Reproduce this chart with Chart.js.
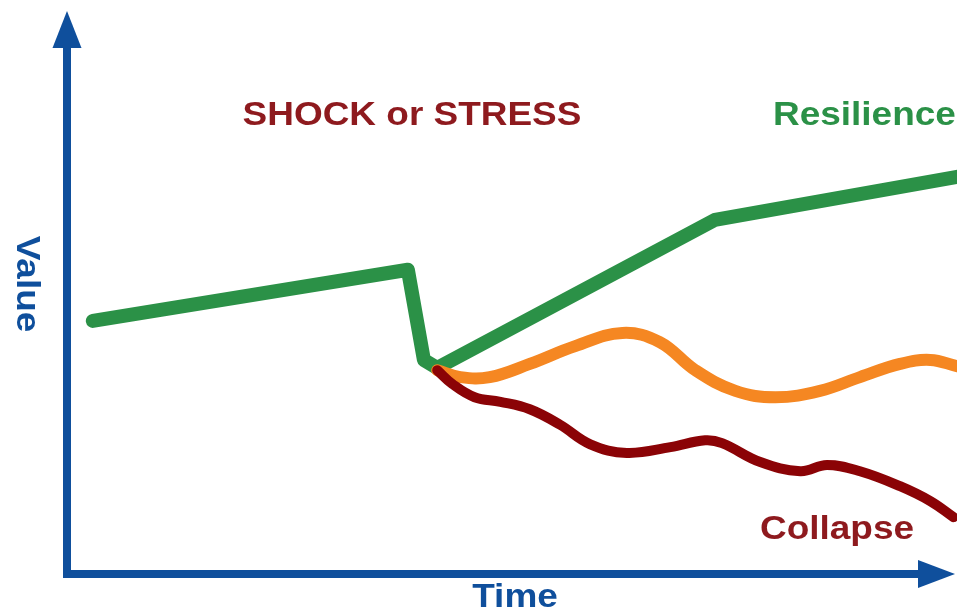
<!DOCTYPE html>
<html>
<head>
<meta charset="utf-8">
<script src="https://cdn.jsdelivr.net/npm/chart.js@4.4.0/dist/chart.umd.min.js"></script>
<style>
  html, body { margin: 0; padding: 0; background: #fff; }
  #wrap { width: 957px; height: 616px; position: relative; }
</style>
</head>
<body>
<div id="wrap"><canvas id="chart"></canvas></div>
<script>
// time runs 0..100 along the x axis, value 0..100 up the y axis
const resilienceTime  = [2.9, 38.3, 40.1, 41.6, 72.8, 100];
const resilienceValue = [44.1, 53.0, 37.3, 35.9, 61.7, 69.2];

const recoveryTime  = [41.6, 44.2, 47.5, 52.0, 57.1, 62.4, 66.6, 70.6, 75.1, 79.6, 84.6, 89.1, 93.6, 97.0, 100];
const recoveryValue = [35.5, 34.3, 34.3, 36.6, 39.7, 42.0, 40.4, 35.5, 31.9, 30.8, 31.9, 34.3, 36.6, 37.3, 36.2];

const collapseTime  = [41.6, 43.3, 45.8, 48.7, 52.0, 55.4, 58.8, 62.9, 67.8, 71.7, 73.6, 77.9, 82.4, 85.4, 89.1, 93.6, 97.0, 99.6];
const collapseValue = [35.5, 33.1, 30.8, 30.0, 28.7, 26.0, 22.6, 21.1, 22.1, 23.3, 22.8, 19.5, 17.9, 19.0, 17.9, 15.3, 12.7, 9.9];

const labels = {
  shock: 'SHOCK or STRESS',
  resilience: 'Resilience',
  collapse: 'Collapse',
  xTitle: 'Time',
  yTitle: 'Value'
};

const BLUE = '#0f4f9c';
const GREEN = '#2b9147';
const ORANGE = '#f58722';
const DARKRED = '#8b0306';
const TEXTRED = '#8e1a1e';
const FONT = '"Liberation Sans", Arial, sans-serif';
const STRETCH = 1.12;

function toPoints(xs, ys) {
  return xs.map((x, i) => ({ x: x, y: ys[i] }));
}

function drawText(ctx, text, x, y, align, color, angle) {
  ctx.save();
  ctx.translate(x, y);
  if (angle) ctx.rotate(angle);
  ctx.scale(STRETCH, 1);
  ctx.font = 'bold 33px ' + FONT;
  ctx.fillStyle = color;
  ctx.textAlign = align;
  ctx.textBaseline = 'middle';
  ctx.fillText(text, 0, 0);
  ctx.restore();
}

const axesPlugin = {
  id: 'axesPlugin',
  beforeDatasetsDraw(chart) {
    const ctx = chart.ctx;
    const xs = chart.scales.x, ys = chart.scales.y;
    const ox = xs.getPixelForValue(0), oy = ys.getPixelForValue(0);
    ctx.save();
    ctx.strokeStyle = BLUE;
    ctx.fillStyle = BLUE;
    ctx.lineWidth = 8;
    ctx.lineCap = 'butt';
    // y axis
    ctx.beginPath();
    ctx.moveTo(ox, oy + 4);
    ctx.lineTo(ox, 46);
    ctx.stroke();
    ctx.beginPath();
    ctx.moveTo(ox, 11);
    ctx.lineTo(ox - 14.5, 48);
    ctx.lineTo(ox + 14.5, 48);
    ctx.closePath();
    ctx.fill();
    // x axis
    ctx.beginPath();
    ctx.moveTo(ox - 4, oy);
    ctx.lineTo(920, oy);
    ctx.stroke();
    ctx.beginPath();
    ctx.moveTo(955, oy);
    ctx.lineTo(918, oy - 14);
    ctx.lineTo(918, oy + 14);
    ctx.closePath();
    ctx.fill();
    ctx.restore();
  },
  afterDraw(chart) {
    const ctx = chart.ctx;
    drawText(ctx, labels.shock, 412, 116, 'center', TEXTRED);
    drawText(ctx, labels.resilience, 773, 116, 'left', GREEN);
    drawText(ctx, labels.collapse, 760, 530, 'left', TEXTRED);
    drawText(ctx, labels.xTitle, 515, 598, 'center', BLUE);
    drawText(ctx, labels.yTitle, 26, 284, 'center', BLUE, Math.PI / 2);
  }
};

new Chart(document.getElementById('chart'), {
  type: 'line',
  data: {
    datasets: [
      {
        label: 'Collapse',
        data: toPoints(collapseTime, collapseValue),
        borderColor: DARKRED,
        borderWidth: 10,
        tension: 0.4,
        borderCapStyle: 'round',
        pointRadius: 0,
        fill: false,
        clip: false
      },
      {
        label: 'Recovery',
        data: toPoints(recoveryTime, recoveryValue),
        borderColor: ORANGE,
        borderWidth: 12,
        tension: 0.4,
        borderCapStyle: 'round',
        pointRadius: 0,
        fill: false,
        clip: false
      },
      {
        label: 'Resilience',
        data: toPoints(resilienceTime, resilienceValue),
        borderColor: GREEN,
        borderWidth: 14,
        tension: 0,
        borderCapStyle: 'round',
        borderJoinStyle: 'round',
        pointRadius: 0,
        fill: false,
        clip: false
      }
    ]
  },
  options: {
    responsive: true,
    maintainAspectRatio: false,
    animation: false,
    layout: { padding: { left: 67, right: 0, top: 0, bottom: 42 } },
    scales: {
      x: { type: 'linear', min: 0, max: 100, display: false },
      y: { type: 'linear', min: 0, max: 100, display: false }
    },
    plugins: {
      legend: { display: false },
      tooltip: { enabled: false }
    }
  },
  plugins: [axesPlugin]
});
</script>
</body>
</html>
